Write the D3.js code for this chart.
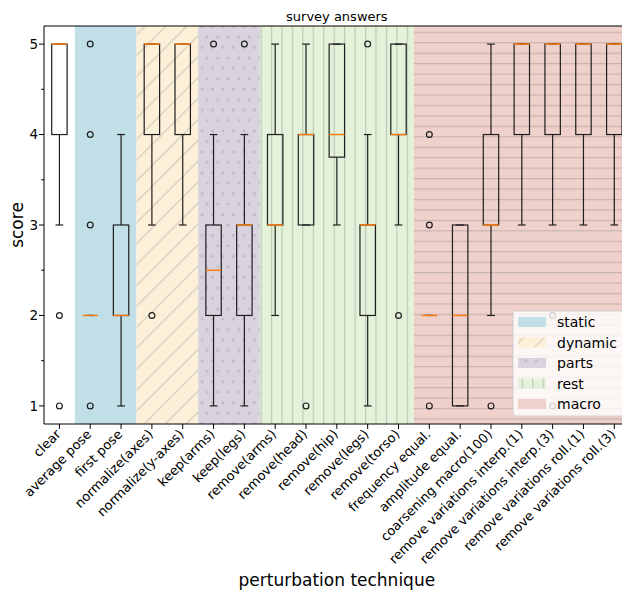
<!DOCTYPE html>
<html><head><meta charset="utf-8">
<script src="https://cdn.jsdelivr.net/npm/d3@7"></script>
<style>body{margin:0;background:#fff;overflow:hidden} text{font-family:"DejaVu Sans",sans-serif;fill:#000}</style>
</head><body><svg id="c" width="622" height="590"></svg>
<script>
const categories = ["clear","average pose","first pose","normalize(axes)","normalize(y-axes)","keep(arms)","keep(legs)","remove(arms)","remove(head)","remove(hip)","remove(legs)","remove(torso)","frequency equal.","amplitude equal.","coarsening macro(100)","remove variations interp.(1)","remove variations interp.(3)","remove variations roll.(1)","remove variations roll.(3)"];
const q1      = [4,2,2,4,4,2,2,3,3,3.75,2,4,2,1,3,4,4,4,4];
const medians = [5,2,2,5,5,2.5,3,3,4,4,3,4,2,2,3,5,5,5,5];
const q3      = [5,2,3,5,5,3,3,4,4,5,3,5,2,3,4,5,5,5,5];
const whiskLo = [3,2,1,3,3,1,1,2,3,3,1,3,2,1,2,3,3,3,3];
const whiskHi = [5,2,4,5,5,4,4,5,5,5,4,5,2,3,5,5,5,5,5];
const outliers = [[2,1],[5,4,3,1],[],[2],[],[5],[5],[],[1],[],[5],[2],[4,3,1],[],[1],[],[2,1],[],[]];
const groupNames = ["static","dynamic","parts","rest","macro"];
const groupFirst = ["average pose","normalize(axes)","keep(arms)","remove(arms)","frequency equal."];
const groupLast  = ["first pose","normalize(y-axes)","keep(legs)","remove(torso)","remove variations roll.(3)"];
const groupColors = ["#c1dfe6","#fcf0d8","#d9d3df","#e4f2d9","#f0d0cb"];
const groupHatch = [null,"diag","dots","vlines","hlines"];
const yTicks = [1,2,3,4,5];
const yMinor = [1.5,2.5,3.5,4.5];

const svg = d3.select("#c");
const L = 44, T = 26, B = 424, R = 629.7;
const x = d3.scaleLinear().domain([0.5, categories.length + 0.5]).range([L, R]);
const y = d3.scaleLinear().domain([0.8, 5.2]).range([B, T]);
const pos = c => categories.indexOf(c) + 1;

// patterns (hatch unit: 6 lines per tile)
const defs = svg.append("defs");
const S = 10.45, D = 2*S, hc = "rgba(140,140,140,0.42)";
const pd = defs.append("pattern").attr("id","diag").attr("patternUnits","userSpaceOnUse").attr("width",D).attr("height",D).attr("x",4);
pd.append("path").attr("d",`M0,${D} L${D},0 M-3,3 L3,-3 M${D-3},${D+3} L${D+3},${D-3}`).attr("stroke",hc).attr("stroke-width",1.1);
const pdots = defs.append("pattern").attr("id","dots").attr("patternUnits","userSpaceOnUse").attr("width",S).attr("height",D).attr("x",8.75).attr("y",16);
[[0,0],[S,0],[0,D],[S,D],[S/2,S]].forEach(([cx,cy]) => pdots.append("circle").attr("cx",cx).attr("cy",cy).attr("r",1.5).attr("fill","rgba(140,140,140,0.35)"));
const pv = defs.append("pattern").attr("id","vlines").attr("patternUnits","userSpaceOnUse").attr("width",S).attr("height",S).attr("x",9.65);
pv.append("line").attr("x1",0.6).attr("x2",0.6).attr("y1",0).attr("y2",S).attr("stroke",hc).attr("stroke-width",1.2);
const ph = defs.append("pattern").attr("id","hlines").attr("patternUnits","userSpaceOnUse").attr("width",S).attr("height",S).attr("y",0.35);
ph.append("line").attr("y1",0.6).attr("y2",0.6).attr("x1",0).attr("x2",S).attr("stroke",hc).attr("stroke-width",1.2);

// bands
groupNames.forEach((g,i) => {
  const x0 = x(pos(groupFirst[i]) - 0.5), x1 = x(pos(groupLast[i]) + 0.5);
  svg.append("rect").attr("x",x0).attr("y",T).attr("width",x1-x0).attr("height",B-T).attr("fill",groupColors[i]);
  if (groupHatch[i]) svg.append("rect").attr("x",x0).attr("y",T).attr("width",x1-x0).attr("height",B-T).attr("fill",`url(#${groupHatch[i]})`);
});

// boxes
const bw = 0.5, cw = 0.25, ink = "#1e1e1e";
categories.forEach((c,i) => {
  const p = i + 1, g = svg.append("g").attr("fill","none").attr("stroke",ink).attr("stroke-width",1.2);
  g.append("rect").attr("x",x(p-bw/2)).attr("width",x(p+bw/2)-x(p-bw/2)).attr("y",y(q3[i])).attr("height",y(q1[i])-y(q3[i]));
  g.append("line").attr("x1",x(p)).attr("x2",x(p)).attr("y1",y(q1[i])).attr("y2",y(whiskLo[i]));
  g.append("line").attr("x1",x(p)).attr("x2",x(p)).attr("y1",y(q3[i])).attr("y2",y(whiskHi[i]));
  [whiskLo[i], whiskHi[i]].forEach(v => g.append("line").attr("x1",x(p-cw/2)).attr("x2",x(p+cw/2)).attr("y1",y(v)).attr("y2",y(v)));
  g.append("line").attr("x1",x(p-bw/2)).attr("x2",x(p+bw/2)).attr("y1",y(medians[i])).attr("y2",y(medians[i])).attr("stroke","#ff7f0e").attr("stroke-width",1.5);
  outliers[i].forEach(v => g.append("circle").attr("cx",x(p)).attr("cy",y(v)).attr("r",2.9));
});

// axes spines
const ax = svg.append("g").attr("stroke","#000").attr("stroke-width",1);
ax.append("line").attr("x1",L).attr("x2",L).attr("y1",T).attr("y2",B);
ax.append("line").attr("x1",L).attr("x2",R).attr("y1",T).attr("y2",T);
ax.append("line").attr("x1",L).attr("x2",R).attr("y1",B).attr("y2",B);

// y axis ticks
yTicks.forEach(v => {
  svg.append("line").attr("x1",L-5).attr("x2",L).attr("y1",y(v)).attr("y2",y(v)).attr("stroke","#000");
  svg.append("text").attr("x",L-6).attr("y",y(v)).attr("dy","0.36em").attr("text-anchor","end").attr("font-size",13.5).text(v);
});
yMinor.forEach(v => svg.append("line").attr("x1",L-2.8).attr("x2",L).attr("y1",y(v)).attr("y2",y(v)).attr("stroke","#000"));

// x axis ticks
categories.forEach((c,i) => {
  const p = i + 1;
  svg.append("line").attr("x1",x(p)).attr("x2",x(p)).attr("y1",B).attr("y2",B+5).attr("stroke","#000");
  svg.append("text").attr("transform",`translate(${x(p)+2},${B+11}) rotate(-45)`).attr("text-anchor","end").attr("font-size",13).text(c);
});

// labels
svg.append("text").attr("x",(L+R)/2).attr("y",21).attr("text-anchor","middle").attr("font-size",13).text("survey answers");
svg.append("text").attr("x",(L+R)/2).attr("y",586).attr("text-anchor","middle").attr("font-size",17).text("perturbation technique");
svg.append("text").attr("transform",`translate(23,${(T+B)/2}) rotate(-90)`).attr("text-anchor","middle").attr("font-size",17).text("score");

// legend
const lg = svg.append("g");
lg.append("rect").attr("x",513).attr("y",311).attr("width",116).attr("height",105).attr("rx",3)
  .attr("fill","rgba(255,255,255,0.8)").attr("stroke","rgba(200,200,200,0.8)");
groupNames.forEach((g,i) => {
  const cy = 322 + i*20.5;
  lg.append("rect").attr("x",518).attr("y",cy-5).attr("width",28).attr("height",10).attr("fill",groupColors[i]);
  if (groupHatch[i] && groupHatch[i] !== "hlines") lg.append("rect").attr("x",518).attr("y",cy-5).attr("width",28).attr("height",10).attr("fill",`url(#${groupHatch[i]})`);
  lg.append("text").attr("x",557).attr("y",cy).attr("dy","0.36em").attr("font-size",14).text(g);
});
</script></body></html>
